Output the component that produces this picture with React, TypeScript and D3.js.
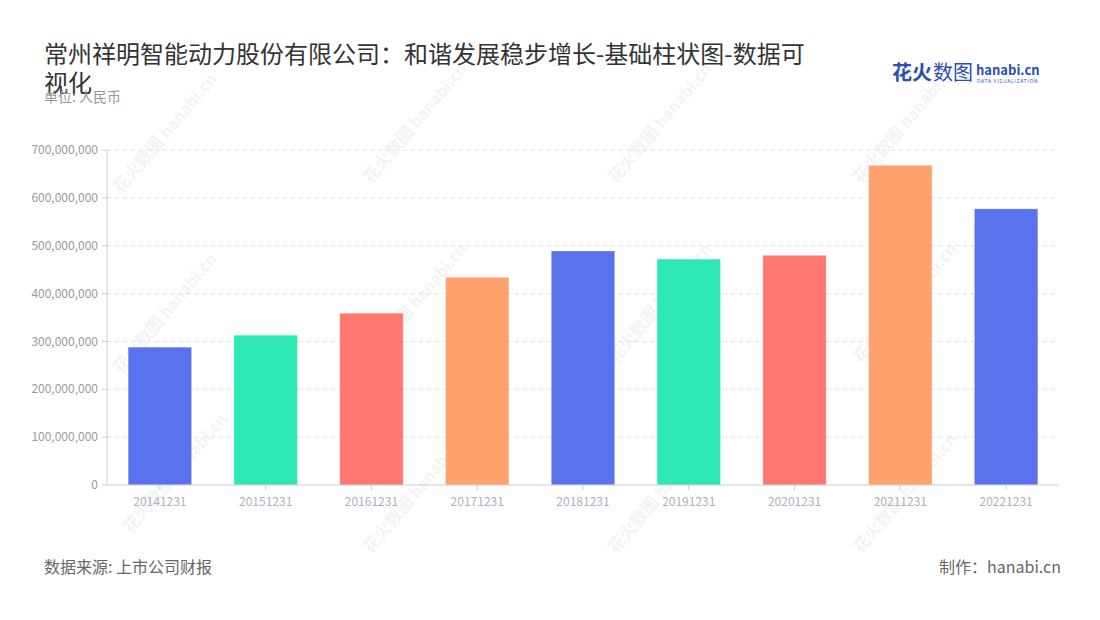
import * as d3 from 'd3';
import React from 'react';

const categories = ['20141231', '20151231', '20161231', '20171231', '20181231', '20191231', '20201231', '20211231', '20221231'];
const values = [288000000, 313000000, 359000000, 434000000, 489000000, 472000000, 480000000, 668000000, 577000000];
const barColors = ['#5a72ee', '#2de8b2', '#ff7870', '#ffa26e', '#5a72ee', '#2de8b2', '#ff7870', '#ffa26e', '#5a72ee'];
const yTicks = [0, 100000000, 200000000, 300000000, 400000000, 500000000, 600000000, 700000000];
const watermarks = [
  [150, 160], [400, 150], [645, 150], [890, 150],
  [150, 340], [400, 330], [645, 330], [890, 330],
  [160, 500], [400, 520], [645, 520], [890, 520],
];

const width = 1100;
const height = 620;
const marginTop = 150;
const marginRight = 41;
const marginBottom = 135;
const marginLeft = 107;
const font = '"Noto Sans CJK SC", "Noto Sans", sans-serif';

export default function App() {
  const x = d3.scaleBand<string>()
    .domain(categories)
    .range([marginLeft, width - marginRight])
    .paddingInner(0.4)
    .paddingOuter(0.2);

  const y = d3.scaleLinear()
    .domain([0, 700000000])
    .range([height - marginBottom, marginTop]);

  const fmt = d3.format(',');

  return (
    <svg width={width} height={height} viewBox={`0 0 ${width} ${height}`}
      style={{ position: 'fixed', left: 0, top: 0, background: '#fff', fontFamily: font }}>
      {/* watermarks */}
      {watermarks.map(([wx, wy], i) => (
        <g key={i} transform={`translate(${wx},${wy}) rotate(-50)`} opacity={0.05}>
          <text x={-45} y={0} fontSize={17} fontWeight={700} fill="#333">花火数图</text>
          <text x={27} y={0} fontSize={16} fontWeight={700} fill="#333">hanabi.cn</text>
        </g>
      ))}

      {/* title */}
      <text x={44} y={63} fontSize={24} fill="#333">常州祥明智能动力股份有限公司：和谐发展稳步增长-基础柱状图-数据可</text>
      <text x={44} y={92} fontSize={24} fill="#333">视化</text>
      <text x={44} y={102} fontSize={14} fill="#999">单位: 人民币</text>

      {/* logo */}
      <text x={892} y={80} fontSize={20} fontWeight={700} fill="#2a4fb0">花火</text>
      <text x={933} y={80} fontSize={20} fill="#2a4fb0">数图</text>
      <text x={976} y={75} fontSize={13} fontWeight={700} fill="#2a4fb0">hanabi.cn</text>
      <text x={977} y={83} fontSize={5} fill="#2a4fb0" letterSpacing={0.7}>DATA VISUALIZATION</text>

      {/* grid */}
      {yTicks.filter(t => t > 0).map(t => (
        <line key={t} x1={marginLeft} x2={width - marginRight} y1={y(t)} y2={y(t)}
          stroke="#e0e0e0" strokeDasharray="4,4" />
      ))}

      {/* bars */}
      {categories.map((c, i) => (
        <rect key={c} x={x(c)} y={y(values[i])} width={x.bandwidth()}
          height={y(0) - y(values[i])} fill={barColors[i]} stroke="#fff" strokeOpacity={0.3} />
      ))}

      {/* y axis */}
      <line x1={marginLeft} x2={marginLeft} y1={marginTop} y2={y(0)} stroke="#ccc" />
      {yTicks.map(t => (
        <g key={t} transform={`translate(0,${y(t)})`}>
          <line x1={marginLeft - 5} x2={marginLeft} stroke="#ccc" />
          <text x={marginLeft - 9} dy="0.35em" textAnchor="end" fontSize={12} fill="#999">{fmt(t)}</text>
        </g>
      ))}

      {/* x axis */}
      <line x1={marginLeft} x2={width - marginRight} y1={y(0)} y2={y(0)} stroke="#ccc" />
      {categories.map(c => (
        <g key={c} transform={`translate(${(x(c) ?? 0) + x.bandwidth() / 2},${y(0)})`}>
          <line y1={0} y2={5} stroke="#ccc" />
          <text y={21} textAnchor="middle" fontSize={12} fill="#aab0be">{c}</text>
        </g>
      ))}

      {/* footer */}
      <text x={44} y={573} fontSize={16} fill="#666">数据来源: 上市公司财报</text>
      <text x={1061} y={573} fontSize={16} fill="#666" textAnchor="end">制作：hanabi.cn</text>
    </svg>
  );
}
